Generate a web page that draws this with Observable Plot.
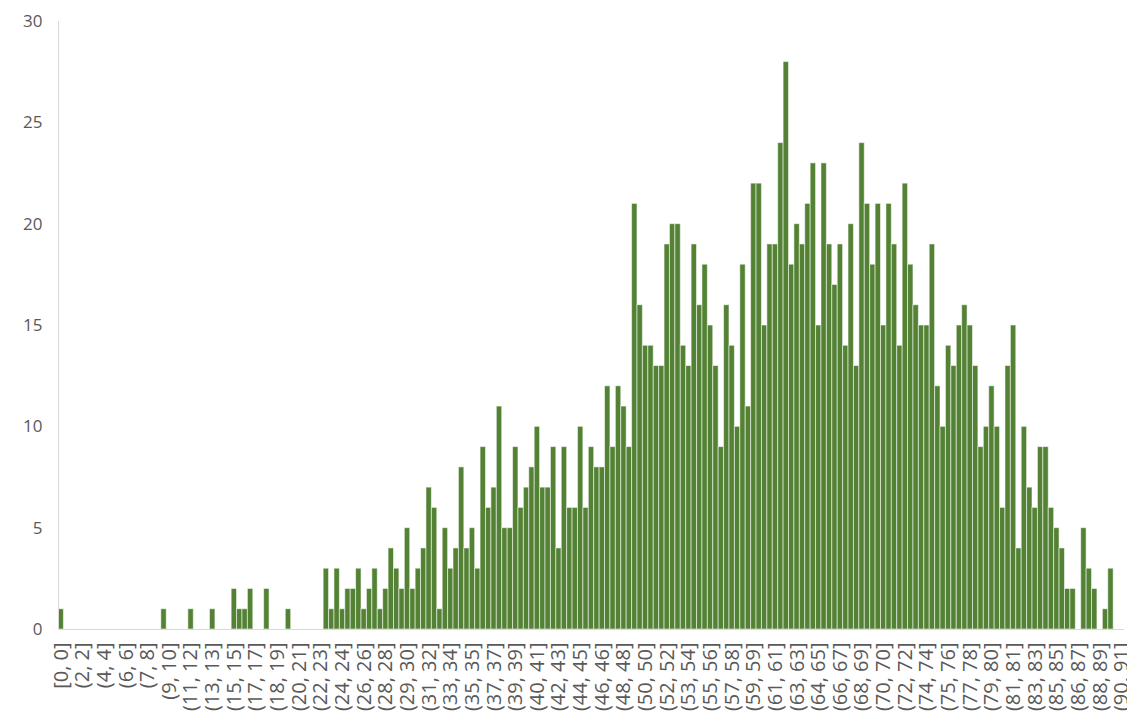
<!DOCTYPE html>
<html>
<head>
<meta charset="utf-8">
<script src="https://cdn.jsdelivr.net/npm/d3@7"></script>
<script src="https://cdn.jsdelivr.net/npm/@observablehq/plot@0.6"></script>
<style>
  html, body { margin: 0; padding: 0; background: #ffffff; overflow: hidden; }
  #chart svg { display: block; overflow: visible; }
</style>
</head>
<body>
<div id="chart"></div>
<script>
// Histogram counts, one per bin (bin width 0.46), bins 0..196
const counts = [
  1,0,0,0,0,0,0,0,0,0, 0,0,0,0,0,0,0,0,0,1, 0,0,0,0,1,0,0,0,1,0,
  0,0,2,1,1,2,0,0,2,0, 0,0,1,0,0,0,0,0,0,
  3,1,3,1,2,2,3,1,2,3,1,2,4,3,2,
  5,2,3,4,7,6,1,5,3,4,8,4,5,3,9,6,
  7,11,5,5,9,6,7,8,10,7,7,9,4,9,6,
  6,10,6,9,8,8,12,9,12,11,9,21,16,14,14,
  13,13,19,20,20,14,13,19,16,18,15,13,9,16,14,10,
  18,11,22,22,15,19,19,24,28,18,20,19,21,23,15,23,19,
  17,19,14,20,13,24,21,18,21,15,21,19,14,22,18,
  16,15,15,19,12,10,14,13,15,16,15,13,9,10,12,10,
  6,13,15,4,10,7,6,9,9,6,5,4,2,2,0,
  5,3,2,0,1,3,0,0
];

// Category labels shown under every fourth bin
const tickLabels = [
  "[0, 0]", "(2, 2]", "(4, 4]", "(6, 6]", "(7, 8]", "(9, 10]", "(11, 12]", "(13, 13]",
  "(15, 15]", "(17, 17]", "(18, 19]", "(20, 21]", "(22, 23]", "(24, 24]", "(26, 26]",
  "(28, 28]", "(29, 30]", "(31, 32]", "(33, 34]", "(35, 35]", "(37, 37]", "(39, 39]",
  "(40, 41]", "(42, 43]", "(44, 45]", "(46, 46]", "(48, 48]", "(50, 50]", "(52, 52]",
  "(53, 54]", "(55, 56]", "(57, 58]", "(59, 59]", "(61, 61]", "(63, 63]", "(64, 65]",
  "(66, 67]", "(68, 69]", "(70, 70]", "(72, 72]", "(74, 74]", "(75, 76]", "(77, 78]",
  "(79, 80]", "(81, 81]", "(83, 83]", "(85, 85]", "(86, 87]", "(88, 89]", "(90, 91]"
];

const yTicks = [0, 5, 10, 15, 20, 25, 30];

const data = counts.map((c, i) => ({ bin: i, count: c }));
const tickPositions = tickLabels.map((label, k) => k * 4 + 0.5);

const chart = Plot.plot({
  width: 1127,
  height: 718,
  marginLeft: 58,
  marginRight: 3,
  marginTop: 21,
  marginBottom: 89,
  style: { fontFamily: "'Open Sans', sans-serif", background: "transparent" },
  x: { domain: [0, counts.length], axis: null, label: null },
  y: { domain: [0, 30], axis: null, label: null },
  marks: [
    Plot.rectY(data, {
      x1: "bin",
      x2: d => d.bin + 1,
      y: "count",
      fill: "#548235",
      stroke: "#ffffff",
      strokeOpacity: 0.55,
      strokeWidth: 1
    }),
    Plot.ruleY([0], { stroke: "#d9d9d9", strokeWidth: 1 }),
    Plot.ruleX([0], { stroke: "#d9d9d9", strokeWidth: 1 }),
    Plot.axisY(yTicks, {
      label: null,
      tickSize: 0,
      tickPadding: 16,
      fontSize: 17,
      fill: "#595959",
      tickFormat: d => String(d)
    }),
    Plot.axisX(tickPositions, {
      label: null,
      tickSize: 0,
      tickPadding: 13,
      tickRotate: -90,
      fontSize: 20,
      fill: "#595959",
      tickFormat: p => tickLabels[Math.round((p - 0.5) / 4)]
    })
  ]
});

document.getElementById("chart").appendChild(chart);
</script>
</body>
</html>
